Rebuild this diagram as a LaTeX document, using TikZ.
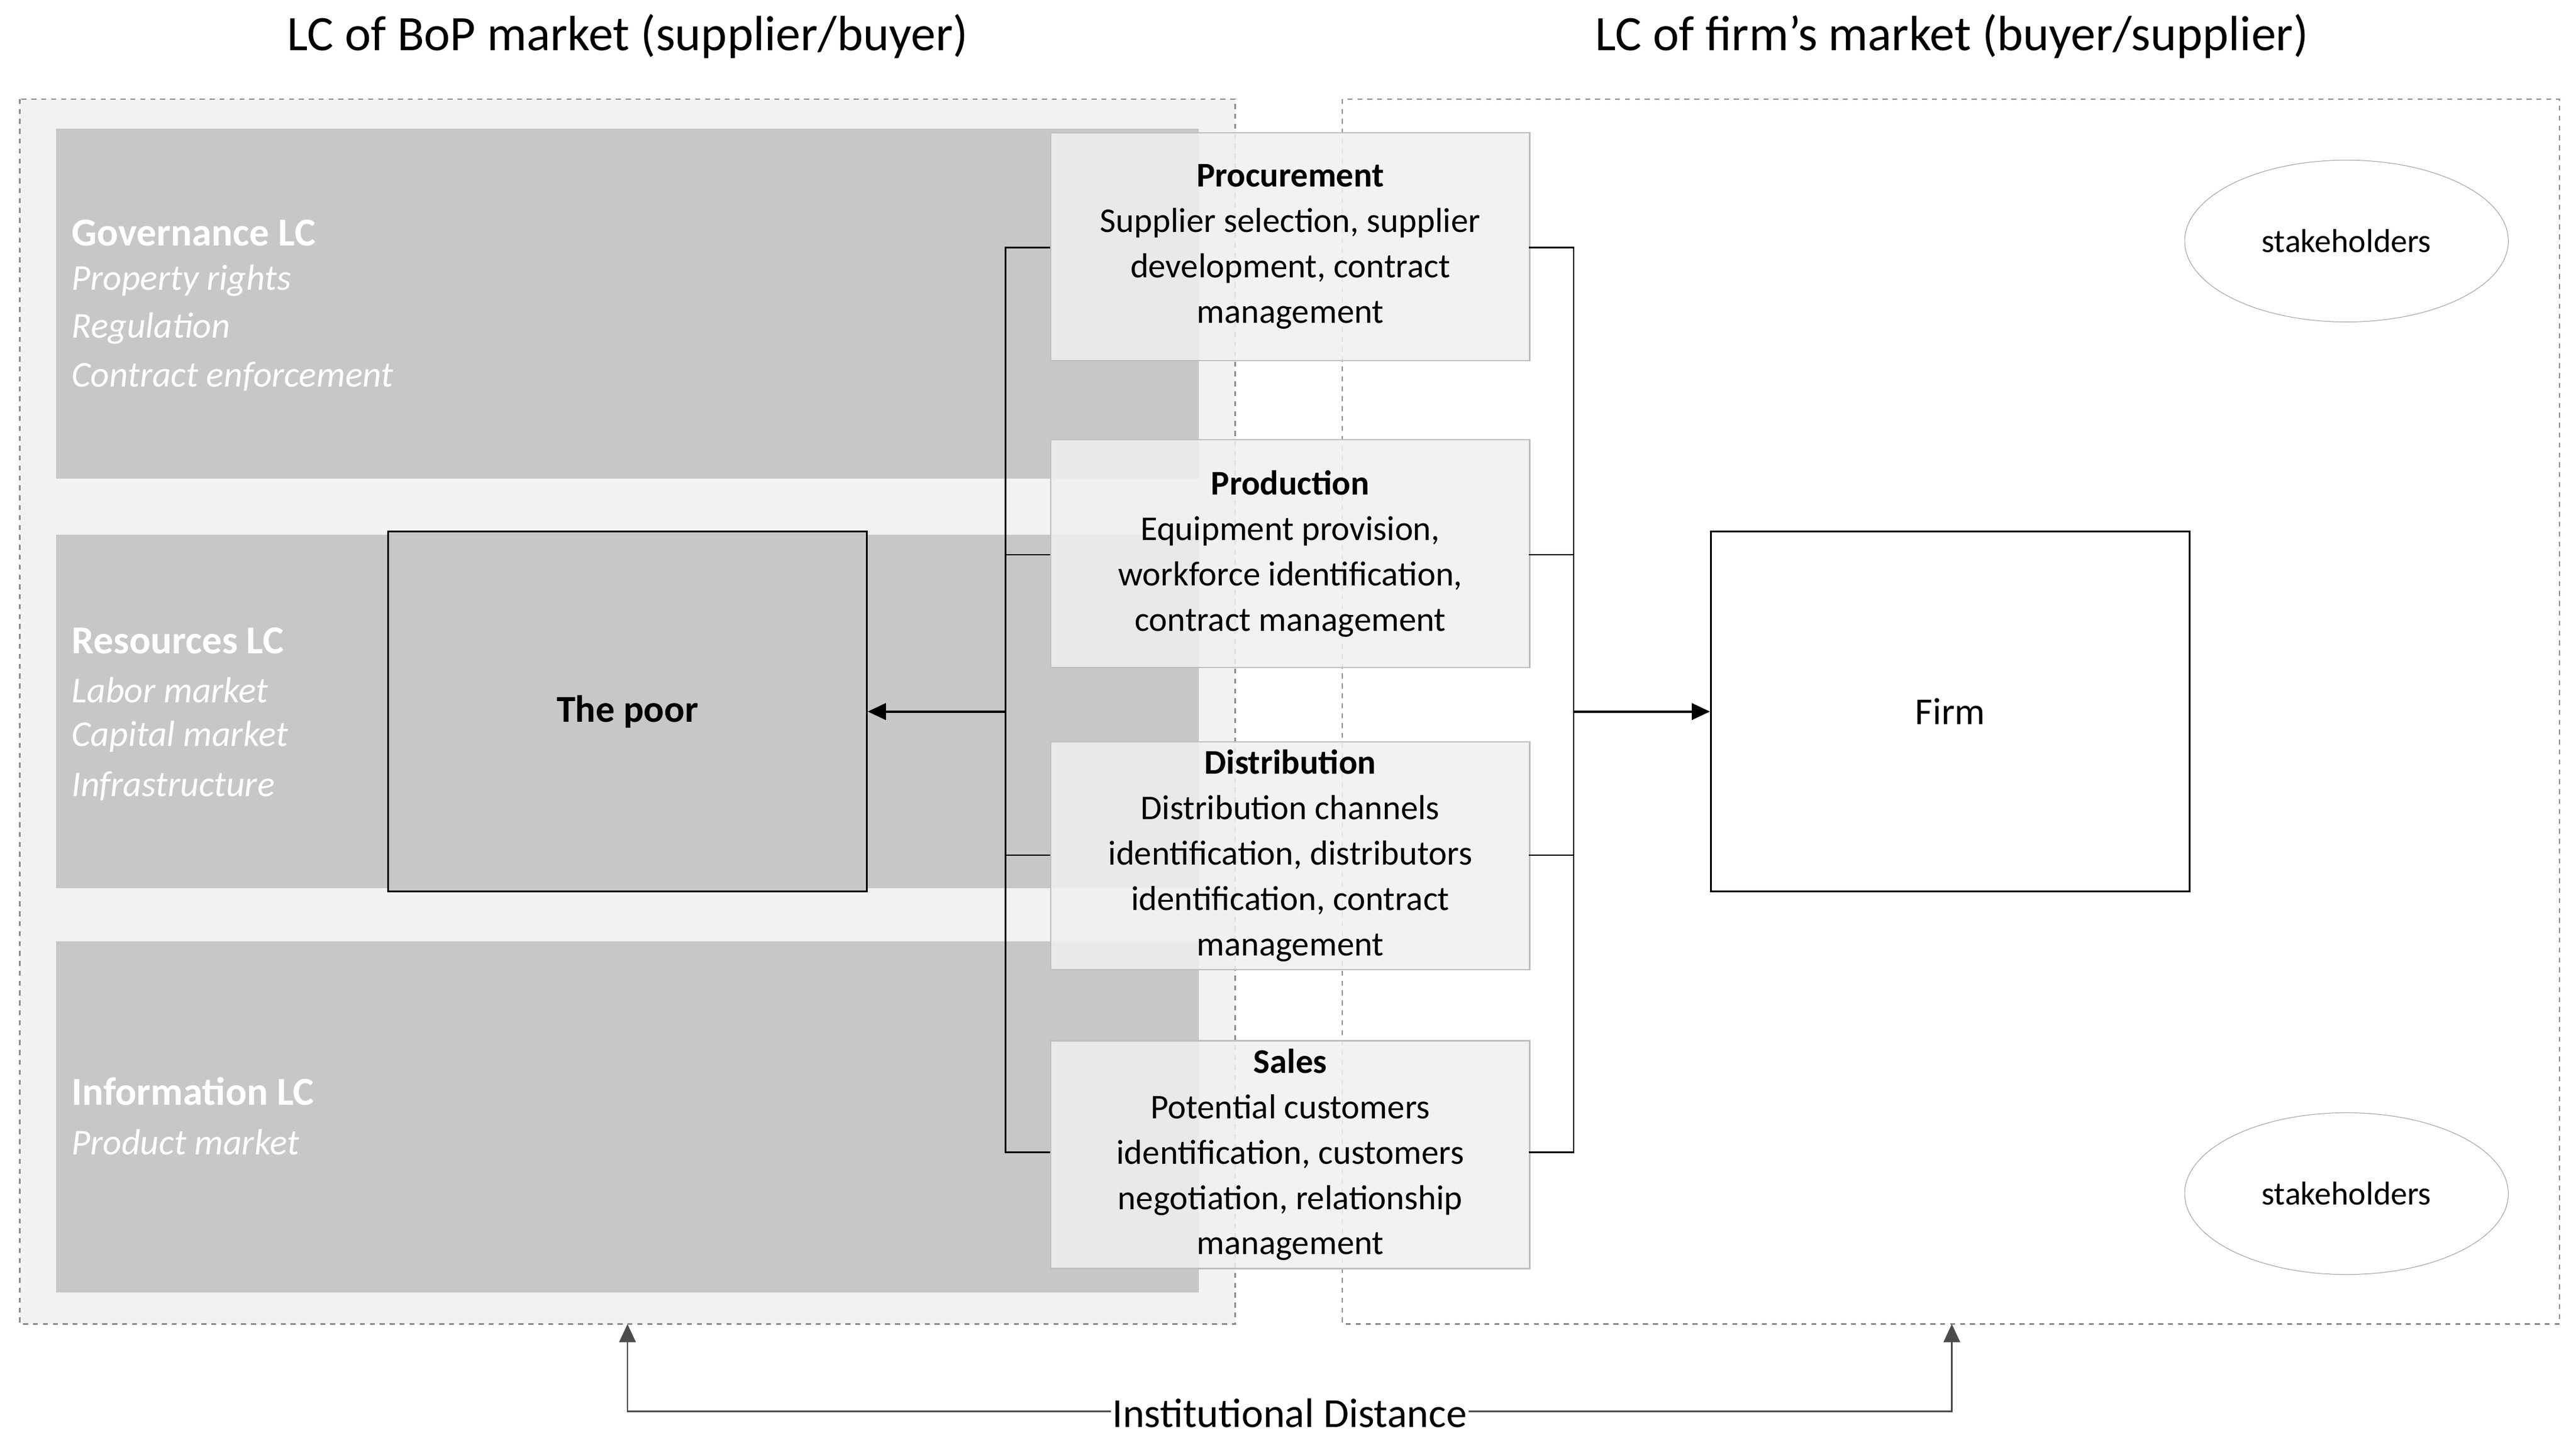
\documentclass[tikz,border=0pt]{standalone}
\usepackage{fontspec}
\setmainfont{Carlito}
\usetikzlibrary{arrows.meta,shapes.geometric}
\begin{document}
\begin{tikzpicture}[x=1pt,y=-1pt,
  band/.style={fill=black!22,draw=none},
  lab/.style={anchor=west,text=white,font=\fontsize{24}{28}\selectfont\bfseries},
  itm/.style={anchor=west,text=white,font=\fontsize{22}{26}\selectfont\itshape},
  fbox/.style={fill=black!6,fill opacity=0.85,text opacity=1,draw=black!25,line width=0.8pt,minimum width=290pt,minimum height=138pt,align=center,font=\fontsize{21}{27.5}\selectfont,anchor=north west},
  arr/.style={-{Triangle[length=11pt,width=10pt]},line width=1.4pt},
  brk/.style={line width=1pt}]
\useasboundingbox (0,0) rectangle (1560,872);
\node (t1) at (380,22) {\fontsize{30}{34}\selectfont LC of BoP market (supplier/buyer)};
\node (t2) at (1182,22) {\fontsize{30}{34}\selectfont LC of firm’s market (buyer/supplier)};
\draw[dashed,draw=black!45,fill=black!5,line width=0.8pt] (12,60) rectangle (748,802);
\draw[dashed,draw=black!45,line width=0.8pt] (813,60) rectangle (1550,802);
\fill[band] (34,78) rectangle (726,290);
\fill[band] (34,324) rectangle (726,538);
\fill[band] (34,570) rectangle (726,783);
\node[lab] (g) at (40,141) {Governance LC};
\node[itm] at (40,170) {Property rights};
\node[itm] at (40,199) {Regulation};
\node[itm] at (40,228) {Contract enforcement};
\node[lab] (r) at (40,388) {Resources LC};
\node[itm] at (40,418) {Labor market};
\node[itm] at (40,446) {Capital market};
\node[itm] at (40,476) {Infrastructure};
\node[lab] (i) at (40,661) {Information LC};
\node[itm] at (40,692) {Product market};
\node[draw,line width=1pt,fill=black!22,minimum width=290pt,minimum height=218pt,font=\fontsize{23}{26}\selectfont\bfseries] (poor) at (380,431) {The poor};
\node[draw,line width=1pt,fill=white,minimum width=290pt,minimum height=218pt,font=\fontsize{23}{26}\selectfont] (firm) at (1181,431) {Firm};
\node[fbox] (p1) at (636,80) {\textbf{Procurement}\\Supplier selection, supplier\\development, contract\\management};
\node[fbox] (p2) at (636,266) {\textbf{Production}\\Equipment provision,\\workforce identification,\\contract management};
\node[fbox] (p3) at (636,449) {\textbf{Distribution}\\Distribution channels\\identification, distributors\\identification, contract\\management};
\node[fbox] (p4) at (636,630) {\textbf{Sales}\\Potential customers\\identification, customers\\negotiation, relationship\\management};
\coordinate (lb) at (609,431);
\coordinate (rb) at (953,431);
\draw[brk] (636,150) -- (609,150) -- (609,698) -- (636,698);
\draw[brk] (609,336) -- (636,336) (609,518) -- (636,518);
\draw[brk] (926,150) -- (953,150) -- (953,698) -- (926,698);
\draw[brk] (953,336) -- (926,336) (953,518) -- (926,518);
\draw[arr] (lb) -- (poor.east);
\draw[arr] (rb) -- (firm.west);
\node[draw=black!35,ellipse,minimum width=196pt,minimum height=98pt,font=\fontsize{20}{24}\selectfont] (s1) at (1421,146) {stakeholders};
\node[draw=black!35,ellipse,minimum width=196pt,minimum height=98pt,font=\fontsize{20}{24}\selectfont] (s2) at (1421,723) {stakeholders};
\coordinate (aL) at (380,802);
\coordinate (aR) at (1182,802);
\draw[arr,line width=1pt,draw=black!70] (781,855) -- (380,855) -- (aL);
\draw[arr,line width=1pt,draw=black!70] (781,855) -- (1182,855) -- (aR);
\node[fill=white,inner sep=1pt,font=\fontsize{25}{28}\selectfont] (id) at (781,856) {Institutional Distance};
\end{tikzpicture}
\end{document}
